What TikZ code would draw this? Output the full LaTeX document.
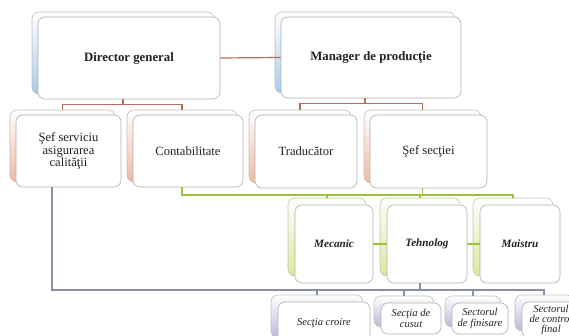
\documentclass[tikz,border=0pt]{standalone}
\usepackage{fontspec}
\setmainfont{Liberation Serif}
\definecolor{framegray}{HTML}{B0B0B0}
\definecolor{cblue}{HTML}{A8CBEA}
\definecolor{cpeach}{HTML}{F0B8A2}
\definecolor{clime}{HTML}{D6EA98}
\definecolor{clav}{HTML}{B8BADA}
\definecolor{lbrown}{HTML}{B5705A}
\definecolor{lgreen}{HTML}{9CC23C}
\definecolor{lgray}{HTML}{8A8FA8}
\definecolor{txt}{HTML}{222222}
\tikzset{
  front/.style={draw=framegray, fill=white, rounded corners=7pt, line width=0.6pt, align=center, inner sep=1pt, text=txt},
  back/.style={draw=framegray!80, rounded corners=7pt, line width=0.6pt, top color=white, bottom color=#1},
  lvA/.style={font=\fontsize{12.8}{14}\selectfont\bfseries},
  lvB/.style={font=\fontsize{12.6}{12.5}\selectfont},
  lvC/.style={font=\fontsize{11.2}{13}\selectfont\bfseries\itshape},
  lvD/.style={font=\fontsize{10.6}{10.3}\selectfont\itshape},
  linkA/.style={draw=lbrown, line width=1.2pt},
  linkB/.style={draw=lgreen, line width=1.2pt},
  linkC/.style={draw=lgray, line width=1.2pt}
}
\def\ox{-6}\def\oy{-5}
% name, x1, y1, x2, y2, colour, text style, text
\newcommand\orgbox[8]{%
  \node[back=#6, minimum width={(#4-#2)*1pt}, minimum height={(#5-#3)*1pt}]
    (#1b) at ({(#2+#4)/2+\ox},{(#3+#5)/2+\oy}) {};
  \node[front, #7, minimum width={(#4-#2)*1pt}, minimum height={(#5-#3)*1pt}]
    (#1) at ({(#2+#4)/2},{(#3+#5)/2}) {#8};
}
\begin{document}
\begin{tikzpicture}[x=1pt,y=-1pt]
\useasboundingbox (0,0) rectangle (569,336);
% level 1
\orgbox{dg}{38}{17}{220}{99}{cblue}{lvA}{Director general}
\orgbox{mp}{281}{17}{461}{98}{cblue}{lvA}{Manager de producţie}
% level 2
\orgbox{sf}{16}{115}{121}{187}{cpeach}{lvB}{Şef serviciu\\asigurarea\\calităţii}
\orgbox{ct}{133}{115}{243}{187}{cpeach}{lvB}{Contabilitate}
\orgbox{tr}{255}{115}{357}{188}{cpeach}{lvB}{Traducător}
\orgbox{ss}{370}{115}{487}{188}{cpeach}{lvB}{Şef secţiei}
% level 3
\def\ox{-7}\def\oy{-7}
\orgbox{me}{295}{205}{373}{283}{clime}{lvC}{Mecanic}
\orgbox{te}{387}{205}{467}{283}{clime}{lvC}{Tehnolog}
\orgbox{ma}{480}{205}{560}{283}{clime}{lvC}{Maistru}
% level 4
\orgbox{cr}{278}{302}{370}{345}{clav}{lvD}{Secţia croire}
\orgbox{cu}{381}{303}{441}{334}{clav}{lvD}{Secţia de\\cusut}
\orgbox{fi}{452}{303}{508}{334}{clav}{lvD}{Sectorul\\de finisare}
\orgbox{co}{522}{302}{580}{338}{clav}{lvD}{Sectorul\\de control\\final}
% connectors level 1
\draw[linkA] (dg.east) -- (mp.west);
\draw[linkA] (dgb.south |- dg.south) -- ++(0,5) coordinate (ba) -| (sfb.north);
\draw[linkA] (ba) -| (ctb.north);
\draw[linkA] (mpb.south |- mp.south) -- ++(0,5) coordinate (bb) -| (trb.north);
\draw[linkA] (bb) -| (ssb.north);
% green
\draw[linkB] (ctb.south |- ct.south) -- (ctb.south |- 0,195) coordinate (g) -| (mab.north);
\draw[linkB] (ssb.south |- ss.south) -- (ssb.south |- g);
\draw[linkB] (meb.north |- g) -- (meb.north);
\draw[linkB] (teb.north |- g) -- (teb.north);
\draw[linkB] (me.east) -- (te.west);
\draw[linkB] (te.east) -- (ma.west);
% gray
\coordinate (sfs) at (52,187);
\draw[linkC] (sfs) -- (52,290) coordinate (h) -| (cob.north);
\draw[linkC] (teb.south |- te.south) -- (teb.south |- h);
\draw[linkC] (crb.north |- h) -- (crb.north);
\draw[linkC] (cub.north |- h) -- (cub.north);
\draw[linkC] (fib.north |- h) -- (fib.north);
\end{tikzpicture}
\end{document}
